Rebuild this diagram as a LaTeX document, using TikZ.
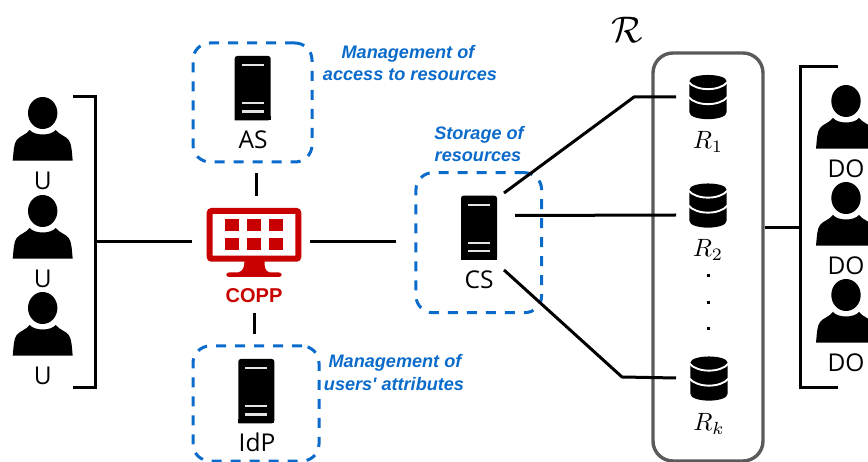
\documentclass[tikz,border=0pt]{standalone}
\usepackage{fontspec}
\setmainfont{Open Sans}
\newfontfamily\arialf{Liberation Sans}
\definecolor{bluebox}{HTML}{0B6BCB}
\definecolor{redc}{HTML}{C90000}
\definecolor{greyc}{HTML}{5A5A5A}
\tikzset{
  line/.style={draw=black,line width=3pt},
  dashbox/.style={draw=bluebox,line width=3pt,dash pattern=on 10pt off 9pt,rounded corners=17pt,inner sep=0pt},
  labeltext/.style={font=\fontsize{24.5}{24.5}\selectfont,inner sep=0pt,text=black},
  mathtext/.style={scale=2.5,inner sep=0pt},
  bluetext/.style={font=\arialf\fontsize{18.1}{18.1}\selectfont\bfseries\itshape,text=bluebox,inner sep=0pt},
  pics/person/.style={code={
    \fill[black] (0,0) ellipse [x radius=14.7pt,y radius=16pt];
    \fill[black] (-30,47.7) .. controls (-29,38) and (-29,31) .. (-26,27)
      .. controls (-23,23) and (-17,22) .. (-13,17)
      .. controls (-8,23) and (8,23) .. (13,17)
      .. controls (17,22) and (23,23) .. (26,27)
      .. controls (29,31) and (29,38) .. (30,47.7) -- cycle;
  }},
  pics/server/.style={code={
    \fill[black,rounded corners=2.5pt] (-18,64.3) -- (-18,0) -- (18,0) -- (18,64.3) [sharp corners] -- cycle;
    \fill[black] (-18,60) rectangle (18,64.3);
    \draw[white!90!black,line width=2.2pt] (-11,9.2) -- (11,9.2) (-11,47.3) -- (11,47.3) (-11,55.5) -- (11,55.5);
  }},
  pics/database/.style={code={
    \fill[black] (-18.7,6.5) .. controls (-18.7,-2.2) and (18.7,-2.2) .. (18.7,6.5)
      -- (18.7,37) .. controls (18.7,46.5) and (-18.7,46.5) .. (-18.7,37) -- cycle;
    \draw[white,line width=1.9pt] (-19.5,7) .. controls (-12,16.5) and (12,16.5) .. (19.5,7);
    \draw[white,line width=1.9pt] (-19.5,22) .. controls (-12,31.5) and (12,31.5) .. (19.5,22);
  }}
}
\begin{document}
\begin{tikzpicture}[x=1pt,y=-1pt]
\clip (0,0) rectangle (868,462);
\useasboundingbox (0,0) rectangle (868,462);

% resource container
\node[draw=greyc,line width=3.4pt,rounded corners=20pt,minimum width=110pt,minimum height=408pt,inner sep=0pt] (rbox) at (708,257) {};
\node[inner sep=0pt,scale=3.7] (rtitle) at (627,30) {$\mathcal{R}$};

% users
\pic at (42.7,113) {person};
\pic at (42.7,211) {person};
\pic at (42.7,308) {person};
\node[labeltext] (u1) at (42.7,181) {U};
\node[labeltext] (u2) at (42.7,279) {U};
\node[labeltext] (u3) at (42.7,376) {U};

% owners
\pic at (846,101) {person};
\pic at (846,198) {person};
\pic at (846,295) {person};
\node[labeltext] (do1) at (846,169) {DO};
\node[labeltext] (do2) at (846,266) {DO};
\node[labeltext] (do3) at (846,363) {DO};

% dashed boxes
\node[dashbox,minimum width=119pt,minimum height=119pt] (asbox) at (252.5,102.5) {};
\node[dashbox,minimum width=126pt,minimum height=115pt] (idpbox) at (256,403.5) {};
\node[dashbox,minimum width=125.7pt,minimum height=140pt] (csbox) at (478.8,242.7) {};

% servers
\pic at (252.7,56) {server};
\pic at (256.3,359) {server};
\pic at (479,195.7) {server};
\node[labeltext] (as) at (253,140) {AS};
\node[labeltext] (idp) at (257,442) {IdP};
\node[labeltext] (cs) at (479,280) {CS};

% COPP monitor
\draw[redc,line width=6pt,rounded corners=2pt] (209.7,211) rectangle (298.3,258.7);
\fill[redc] (244.3,260) .. controls (244.5,268) and (243,271) .. (238,272.5) -- (229,272.5)
  .. controls (225.5,272.5) and (225.5,277) .. (229,277) -- (279,277)
  .. controls (282.5,277) and (282.5,272.5) .. (279,272.5) -- (270,272.5)
  .. controls (265,271) and (264.5,268) .. (264.5,260) -- cycle;
\foreach \cx in {225,247,269.3}{
  \foreach \cy in {218.7,238}{
    \fill[redc] (\cx,\cy) rectangle ++(13.7,12);
  }
}
\node[inner sep=0pt,font=\arialf\fontsize{20}{20}\selectfont\bfseries,text=redc] (copp) at (254,296) {COPP};

% databases
\pic at (708,75) {database};
\pic at (708,183.5) {database};
\pic at (709,356.5) {database};
\node[mathtext] (r1) at (708,142) {$R_1$};
\node[mathtext] (r2) at (708,250) {$R_2$};
\node[mathtext] (rk) at (709,424) {$R_k$};
\foreach \dy/\dn in {276/a,303/b,329/c}{
  \node[fill=black,minimum size=3pt,inner sep=0pt] (dot\dn) at (708,\dy) {};
}

% descriptive text
\node[bluetext] (t1a) at (408,53.5) {Management of};
\node[bluetext] (t1b) at (410,75) {access to resources};
\node[bluetext] (t2a) at (479,135) {Storage of};
\node[bluetext] (t2b) at (478,157) {resources};
\node[bluetext] (t3a) at (395,362.5) {Management of};
\node[bluetext] (t3b) at (394,384) {users' attributes};

% connector end points
\coordinate (ubt) at (73,97);
\coordinate (ubm) at (95,97);
\coordinate (ubn) at (95,388);
\coordinate (ubb) at (73,388);
\coordinate (ujoin) at (95,242);
\coordinate (coppw) at (192,242);
\coordinate (coppe) at (310,242);
\coordinate (csw) at (396,242);
\coordinate (coppn) at (256,195.7);
\coordinate (asS) at (256,172.7);
\coordinate (copps) at (254,313);
\coordinate (idpN) at (254,334);
\coordinate (cs1) at (504,193);
\coordinate (k1) at (634,97);
\coordinate (r1w) at (676,97);
\coordinate (cs2) at (515,215.5);
\coordinate (r2w) at (676,215);
\coordinate (cs3) at (504,270);
\coordinate (k3) at (622,377);
\coordinate (r3w) at (676,378);
\coordinate (dbt) at (837.7,67);
\coordinate (dbm) at (800,67);
\coordinate (dbn) at (800,388);
\coordinate (dbb) at (837.7,388);
\coordinate (rjoin) at (rbox.east |- 0,227.5);
\coordinate (djoin) at (800,227.5);

% connectors
\draw[line] (ubt) -- (ubm) -- (ubn) -- (ubb);
\draw[line] (ujoin) -- (coppw);
\draw[line] (coppe) -- (csw);
\draw[line] (asS) -- (coppn);
\draw[line] (copps) -- (idpN);
\draw[line,line join=round] (cs1) -- (k1) -- (r1w);
\draw[line] (cs2) -- (r2w);
\draw[line,line join=round] (cs3) -- (k3) -- (r3w);
\draw[line] (dbt) -- (dbm) -- (dbn) -- (dbb);
\draw[line] (rjoin) -- (djoin);
\end{tikzpicture}
\end{document}
